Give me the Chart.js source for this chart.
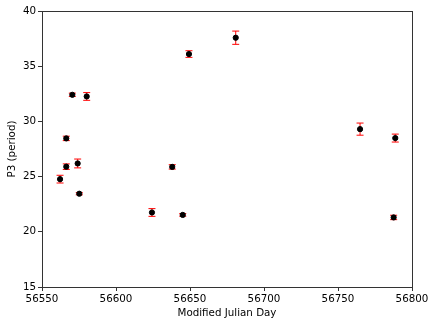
<!DOCTYPE html>
<html>
<head>
<meta charset="utf-8">
<script src="https://cdn.jsdelivr.net/npm/chart.js@4"></script>
<style>
    html, body { margin: 0; padding: 0; background: #fff; }
    #wrap { width: 436px; height: 326px; }
</style>
</head>
<body>
<div id="wrap"><canvas id="p3-chart" width="436" height="326"></canvas></div>
<script>
"use strict"

// Observation dates (MJD), measured P3 and its 1-sigma error
const mjd = [56562.2, 56566.4, 56566.4, 56570.5, 56574.1, 56575.2, 56580.2,
    56624.3, 56638.0, 56645.1, 56649.3, 56680.9, 56764.9, 56788.7, 56787.6];
const p3 = [24.77, 28.46, 25.90, 32.41, 26.19, 23.45, 32.26,
    21.75, 25.88, 21.53, 36.10, 37.58, 29.30, 28.49, 21.30];
const p3Err = [0.35, 0.2, 0.25, 0.15, 0.4, 0.1, 0.35,
    0.35, 0.2, 0.12, 0.3, 0.6, 0.55, 0.36, 0.2];

const xTicks = [56550, 56600, 56650, 56700, 56750, 56800];
const yTicks = [15, 20, 25, 30, 35, 40];

const fontFamily = "'DejaVu Sans', sans-serif";

/**
 * Draws the red error bars (with caps) under the points.
 */
const errorBarPlugin = {
    id: 'errorBars',
    beforeDatasetsDraw(chart) {
        const ctx = chart.ctx;
        const xs = chart.scales.x;
        const ys = chart.scales.y;
        ctx.save();
        ctx.strokeStyle = '#ff0000';
        ctx.lineWidth = 1;
        mjd.forEach((m, i) => {
            const px = xs.getPixelForValue(m);
            const top = ys.getPixelForValue(p3[i] + p3Err[i]);
            const bot = ys.getPixelForValue(p3[i] - p3Err[i]);
            ctx.beginPath();
            ctx.moveTo(px, top);
            ctx.lineTo(px, bot);
            ctx.moveTo(px - 3.5, top);
            ctx.lineTo(px + 3.5, top);
            ctx.moveTo(px - 3.5, bot);
            ctx.lineTo(px + 3.5, bot);
            ctx.stroke();
        });
        ctx.restore();
    }
};

/**
 * Draws the box around the plot area, like matplotlib spines.
 */
const framePlugin = {
    id: 'frame',
    afterDraw(chart) {
        const { ctx, chartArea: a } = chart;
        ctx.save();
        ctx.strokeStyle = '#333';
        ctx.lineWidth = 1;
        ctx.strokeRect(Math.round(a.left) + 0.5, Math.round(a.top) + 0.5,
            Math.round(a.right - a.left), Math.round(a.bottom - a.top));
        ctx.restore();
    }
};

const ctx = document.getElementById('p3-chart');

new Chart(ctx, {
    type: 'scatter',
    data: {
        datasets: [{
            data: mjd.map((m, i) => ({ x: m, y: p3[i] })),
            backgroundColor: '#000',
            borderColor: '#000',
            pointRadius: 2.6,
            pointHoverRadius: 2.6
        }]
    },
    options: {
        responsive: false,
        animation: false,
        devicePixelRatio: 1,
        layout: { padding: { top: 11, right: 24, bottom: 0, left: 0 } },
        plugins: {
            legend: { display: false },
            tooltip: { enabled: false }
        },
        scales: {
            x: {
                type: 'linear',
                min: 56550,
                max: 56800,
                afterBuildTicks: axis => { axis.ticks = xTicks.map(v => ({ value: v })); },
                afterFit: axis => { axis.height = 39; },
                grid: { drawOnChartArea: false, drawTicks: true, tickLength: 4, color: '#333' },
                border: { display: false },
                ticks: {
                    color: '#000',
                    padding: 2,
                    font: { family: fontFamily, size: 10.3 },
                    maxRotation: 0,
                    callback: v => String(v)
                },
                title: {
                    display: true,
                    text: 'Modified Julian Day',
                    color: '#000',
                    font: { family: fontFamily, size: 10.3 },
                    padding: { top: 1, bottom: 6 }
                }
            },
            y: {
                type: 'linear',
                min: 15,
                max: 40,
                afterBuildTicks: axis => { axis.ticks = yTicks.map(v => ({ value: v })); },
                afterFit: axis => { axis.width = 42; },
                grid: { drawOnChartArea: false, drawTicks: true, tickLength: 4, color: '#333' },
                border: { display: false },
                ticks: {
                    color: '#000',
                    padding: 2,
                    font: { family: fontFamily, size: 10.3 },
                    callback: v => String(v)
                },
                title: {
                    display: true,
                    text: 'P3 (period)',
                    color: '#000',
                    font: { family: fontFamily, size: 10.3 },
                    padding: { top: 6, bottom: 0 }
                }
            }
        }
    },
    plugins: [errorBarPlugin, framePlugin]
});
</script>
</body>
</html>
